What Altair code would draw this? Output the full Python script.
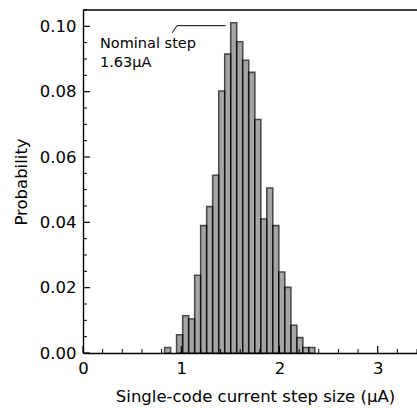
import altair as alt
import pandas as pd

# Histogram bins (left edges, µA) and probabilities
bin_left = [0.831, 0.892, 0.953, 1.015, 1.076, 1.137, 1.198, 1.259, 1.320, 1.382,
            1.443, 1.504, 1.565, 1.626, 1.687, 1.749, 1.810, 1.871, 1.932, 1.993,
            2.054, 2.116, 2.177, 2.238, 2.299]
bin_right = [0.892, 0.953, 1.015, 1.076, 1.137, 1.198, 1.259, 1.320, 1.382, 1.443,
             1.504, 1.565, 1.626, 1.687, 1.749, 1.810, 1.871, 1.932, 1.993, 2.054,
             2.116, 2.177, 2.238, 2.299, 2.360]
probability = [0.0017, 0.0, 0.0056, 0.0114, 0.0104, 0.0238, 0.0390, 0.0448, 0.0544, 0.0802,
               0.0915, 0.1011, 0.0953, 0.0896, 0.0859, 0.0715, 0.0410, 0.0505, 0.0390, 0.0248,
               0.0201, 0.0085, 0.0047, 0.0017, 0.0017]
baseline = [0.0] * len(probability)

x_major = [0, 1, 2, 3]
x_minor = [0.2, 0.4, 0.6, 0.8, 1.2, 1.4, 1.6, 1.8, 2.2, 2.4, 2.6, 2.8, 3.2, 3.4]
y_major = [0.0, 0.02, 0.04, 0.06, 0.08, 0.10]
y_minor = [0.005, 0.01, 0.015, 0.025, 0.03, 0.035, 0.045, 0.05, 0.055,
           0.065, 0.07, 0.075, 0.085, 0.09, 0.095, 0.105]

ann_x = [0.908, 0.956, 1.452]
ann_y = [0.0980, 0.1002, 0.1002]
ann_text = "Nominal step\n1.63μA"
ann_text_x = 0.173
ann_text_y = 0.0966

W, H = 334, 343
FONT = "DejaVu Sans"

xscale = alt.Scale(domain=[0, 3.4], nice=False, zero=False)
yscale = alt.Scale(domain=[0, 0.105], nice=False)

bars_df = pd.DataFrame({"left": bin_left, "right": bin_right, "p": probability, "base": baseline})
bars_df = bars_df[bars_df["p"] > 0]

bars = alt.Chart(bars_df).mark_rect(
    fill="gray", stroke="black", strokeWidth=1.6, opacity=0.7
).encode(
    x=alt.X("left:Q", scale=xscale,
            axis=alt.Axis(values=x_major, format="d", ticks=False, grid=False,
                          labelPadding=7, title="Single-code current step size (μA)",
                          titleX=172, titlePadding=12)),
    x2="right:Q",
    y=alt.Y("p:Q", scale=yscale,
            axis=alt.Axis(values=y_major, format=".2f", ticks=False, grid=False,
                          labelPadding=7, title="Probability", titlePadding=10)),
    y2="base:Q",
)

xmaj = alt.Chart(pd.DataFrame({"v": x_major})).mark_rule(color="black", strokeWidth=1.2).encode(
    x=alt.X("v:Q", scale=xscale), y=alt.value(H), y2=alt.value(H - 7))
xmin = alt.Chart(pd.DataFrame({"v": x_minor})).mark_rule(color="black", strokeWidth=1.0).encode(
    x=alt.X("v:Q", scale=xscale), y=alt.value(H), y2=alt.value(H - 4))
ymaj = alt.Chart(pd.DataFrame({"v": y_major})).mark_rule(color="black", strokeWidth=1.2).encode(
    y=alt.Y("v:Q", scale=yscale), x=alt.value(0), x2=alt.value(7))
ymin = alt.Chart(pd.DataFrame({"v": y_minor})).mark_rule(color="black", strokeWidth=1.0).encode(
    y=alt.Y("v:Q", scale=yscale), x=alt.value(0), x2=alt.value(4))

top_border = alt.Chart(pd.DataFrame({"a": [0]})).mark_rule(color="black", strokeWidth=1.4).encode(
    x=alt.value(0), x2=alt.value(W), y=alt.value(0))

ann_line = alt.Chart(pd.DataFrame({"x": ann_x, "y": ann_y, "o": [0, 1, 2]})).mark_line(
    color="black", strokeWidth=1.0).encode(
    x=alt.X("x:Q", scale=xscale), y=alt.Y("y:Q", scale=yscale), order="o:O")

ann = alt.Chart(pd.DataFrame({"x": [ann_text_x], "y": [ann_text_y], "t": [ann_text]})).mark_text(
    align="left", baseline="top", font=FONT, fontSize=14.5, lineBreak="\n", lineHeight=19,
    color="black").encode(
    x=alt.X("x:Q", scale=xscale), y=alt.Y("y:Q", scale=yscale), text="t:N")

chart = alt.layer(bars, xmaj, xmin, ymaj, ymin, top_border, ann_line, ann).properties(
    width=W, height=H,
    padding={"left": 83, "top": 10, "right": 0, "bottom": 55},
    autosize="none",
    background="white",
).configure_view(stroke=None).configure_axis(
    domainColor="black", domainWidth=1.4, labelFont=FONT, labelFontSize=16.5,
    labelColor="black", titleFont=FONT, titleFontSize=16.5, titleFontWeight="normal",
    titleColor="black", labelFlush=False, labelOverlap=False,
)

chart.save("out.html", embed_options={"renderer": "svg", "actions": False})
